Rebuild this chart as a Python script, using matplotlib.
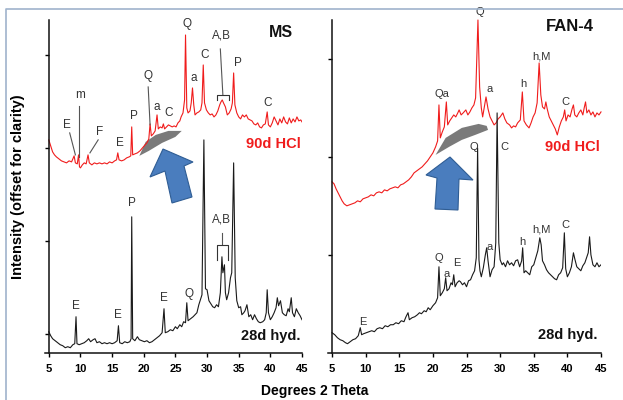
"""
plot.py
=======
XRD patterns of MS and FAN-4 pastes: 28 d hydrated vs. 90 d in HCl
(offset for clarity), with the amorphous hump shaded and marked by an arrow.
"""

import matplotlib.pyplot as plt
from matplotlib.patches import Polygon

plt.rcParams['font.family'] = ['Liberation Sans', 'DejaVu Sans']

# ──────────────────────────────────────────────
# Data (2-theta in degrees, intensity in arbitrary offset units)
# ──────────────────────────────────────────────
ms_28_theta = [5.0, 5.3, 5.6, 6.0, 6.4, 6.8, 7.2, 7.6, 8.0, 8.4, 8.8, 9.1, 9.3, 9.45, 9.8,
               10.2, 10.6, 11.0, 11.3, 11.6, 12.0, 12.3, 12.6, 13.0, 13.4, 13.8, 14.2, 14.6,
               15.0, 15.4, 15.8, 16.0, 16.2, 16.6, 17.0, 17.4, 17.8, 18.0, 18.1, 18.25, 18.6,
               19.0, 19.3, 19.7, 20.1, 20.5, 20.9, 21.3, 21.7, 22.1, 22.5, 22.9, 23.2, 23.4,
               23.8, 24.2, 24.6, 25.0, 25.3, 25.7, 26.0, 26.3, 26.6, 26.8, 27.0, 27.4, 27.8,
               28.1, 28.4, 28.7, 29.0, 29.2, 29.5, 29.75, 30.0, 30.3, 30.6, 30.9, 31.2, 31.5,
               31.8, 32.1, 32.35, 32.5, 32.75, 32.9, 33.1, 33.4, 33.7, 33.9, 34.2, 34.45, 34.7,
               35.0, 35.3, 35.5, 35.8, 36.0, 36.3, 36.6, 36.9, 37.2, 37.5, 37.8, 38.1, 38.4,
               38.8, 39.1, 39.35, 39.5, 39.7, 40.0, 40.3, 40.6, 40.9, 41.1, 41.3, 41.6, 41.9,
               42.2, 42.5, 42.8, 43.0, 43.3, 43.5, 43.8, 44.1, 44.4, 44.7, 45.0]
ms_28_int = [21, 17, 14, 12, 10, 8, 7, 5, 6, 5, 8, 9, 36, 9, 8,
             9, 10, 12, 14, 11, 13, 14, 10, 11, 9, 10, 9, 10,
             9, 10, 12, 27, 10, 9, 11, 10, 11, 14, 136, 14, 12,
             16, 13, 12, 11, 12, 10, 11, 13, 15, 17, 20, 44, 20,
             21, 23, 22, 26, 24, 28, 26, 31, 30, 50, 32, 34, 36,
             38, 40, 48, 54, 58, 213, 64, 63, 52, 49, 46, 45, 48,
             46, 60, 96, 80, 88, 60, 53, 60, 75, 80, 190, 75, 52,
             45, 46, 38, 40, 42, 48, 36, 38, 33, 38, 34, 31, 30,
             31, 33, 40, 63, 40, 33, 36, 40, 45, 55, 47, 52, 40,
             38, 37, 44, 41, 55, 40, 36, 44, 40, 37, 33]

ms_90_theta = [5.0, 5.3, 5.6, 5.9, 6.2, 6.6, 7.0, 7.4, 7.8, 8.2, 8.6, 9.0, 9.2, 9.5, 9.7,
               9.85, 10.0, 10.3, 10.6, 10.9, 11.2, 11.4, 11.8, 12.2, 12.6, 13.0, 13.4, 13.8,
               14.2, 14.6, 15.0, 15.4, 15.7, 15.9, 16.1, 16.5, 16.9, 17.3, 17.7, 17.95, 18.1,
               18.25, 18.6, 19.0, 19.4, 19.8, 20.2, 20.5, 20.8, 21.0, 21.2, 21.5, 21.8, 22.1,
               22.3, 22.6, 22.9, 23.1, 23.3, 23.6, 23.9, 24.2, 24.5, 24.8, 25.1, 25.4, 25.7,
               25.9, 26.2, 26.45, 26.6, 26.8, 27.0, 27.3, 27.5, 27.7, 27.9, 28.1, 28.4, 28.7,
               29.0, 29.2, 29.4, 29.6, 29.9, 30.2, 30.5, 30.8, 31.1, 31.4, 31.7, 32.0, 32.2,
               32.4, 32.6, 32.9, 33.2, 33.5, 33.8, 34.0, 34.2, 34.4, 34.7, 35.0, 35.3, 35.6,
               35.9, 36.2, 36.5, 36.8, 37.1, 37.4, 37.7, 38.0, 38.3, 38.6, 38.9, 39.2, 39.5,
               39.7, 40.0, 40.3, 40.6, 40.9, 41.2, 41.5, 41.8, 42.1, 42.4, 42.7, 43.0, 43.3,
               43.6, 43.9, 44.2, 44.5, 44.8, 45.0]
ms_90_int = [213, 207, 201, 198, 196, 194, 192, 191, 190, 192, 191, 197, 190, 189, 198,
             186, 185, 188, 190, 189, 198, 190, 188, 190, 189, 190, 189, 190,
             189, 191, 190, 192, 193, 200, 193, 192, 193, 195, 196, 197, 226,
             198, 199, 200, 202, 205, 208, 210, 214, 229, 217, 219, 222, 238,
             224, 226, 225, 229, 224, 226, 228, 227, 226, 227, 226, 230, 232,
             236, 240, 253, 318, 245, 240, 242, 250, 265, 248, 238, 240, 241,
             243, 250, 288, 250, 243, 240, 238, 239, 236, 238, 242, 248, 251,
             253, 250, 246, 238, 240, 244, 250, 280, 248, 240, 236, 234, 238,
             236, 238, 234, 233, 232, 229, 228, 230, 226, 225, 228, 229, 241,
             228, 226, 230, 236, 232, 228, 234, 230, 236, 231, 229, 235, 230,
             234, 231, 236, 232, 233, 231]

fan_28_theta = [5.0, 5.4, 5.8, 6.2, 6.6, 7.0, 7.3, 7.7, 8.1, 8.5, 8.9, 9.2, 9.4, 9.7, 10.1,
                10.5, 10.9, 11.3, 11.7, 12.1, 12.5, 12.9, 13.3, 13.7, 14.1, 14.5, 14.9, 15.3,
                15.7, 16.0, 16.3, 16.5, 16.9, 17.3, 17.7, 18.0, 18.3, 18.7, 19.0, 19.3, 19.6,
                20.0, 20.4, 20.7, 20.9, 21.1, 21.4, 21.7, 21.9, 22.1, 22.4, 22.7, 22.9, 23.1,
                23.3, 23.6, 23.9, 24.1, 24.4, 24.7, 25.0, 25.3, 25.6, 25.9, 26.2, 26.45, 26.65,
                26.85, 27.0, 27.2, 27.5, 27.8, 28.0, 28.2, 28.5, 28.8, 29.1, 29.35, 29.55, 29.8,
                30.0, 30.3, 30.5, 30.8, 31.1, 31.4, 31.7, 32.0, 32.3, 32.6, 32.9, 33.2, 33.35,
                33.55, 33.8, 34.1, 34.4, 34.7, 35.0, 35.3, 35.6, 35.9, 36.1, 36.3, 36.6, 36.9,
                37.2, 37.5, 37.8, 38.1, 38.4, 38.7, 39.0, 39.3, 39.55, 39.75, 40.0, 40.3, 40.6,
                40.9, 41.1, 41.4, 41.7, 42.0, 42.3, 42.6, 42.9, 43.1, 43.3, 43.5, 43.8, 44.1,
                44.4, 44.7, 45.0]
fan_28_int = [20, 18, 15, 13, 12, 10, 9, 11, 13, 14, 17, 25, 18, 19, 20,
              21, 22, 21, 24, 25, 24, 27, 26, 28, 28, 30, 29, 32,
              31, 36, 40, 33, 35, 36, 38, 40, 39, 42, 41, 45, 43,
              47, 50, 55, 86, 57, 60, 64, 75, 62, 64, 70, 68, 78,
              66, 70, 72, 71, 68, 70, 66, 72, 73, 78, 82, 95, 205,
              93, 82, 76, 85, 98, 105, 92, 76, 83, 86, 110, 240, 110,
              93, 88, 90, 86, 92, 88, 90, 87, 92, 93, 86, 92, 105,
              80, 82, 80, 78, 86, 88, 95, 102, 115, 108, 92, 88, 83,
              80, 78, 76, 74, 73, 78, 80, 85, 120, 84, 76, 80, 86,
              100, 94, 86, 84, 82, 87, 90, 96, 100, 116, 98, 88, 86,
              90, 86, 88]

fan_90_theta = [5.0, 5.3, 5.6, 5.9, 6.2, 6.5, 6.8, 7.2, 7.6, 8.0, 8.4, 8.8, 9.2, 9.6, 10.0,
                10.4, 10.8, 11.2, 11.6, 12.0, 12.4, 12.8, 13.2, 13.6, 14.0, 14.4, 14.8, 15.2,
                15.6, 16.0, 16.4, 16.8, 17.2, 17.6, 18.0, 18.4, 18.8, 19.2, 19.6, 20.0, 20.4,
                20.7, 20.9, 21.1, 21.4, 21.7, 22.0, 22.2, 22.5, 22.8, 23.1, 23.4, 23.7, 23.9,
                24.2, 24.5, 24.9, 25.2, 25.5, 25.8, 26.1, 26.35, 26.7, 26.95, 27.2, 27.4, 27.6,
                27.9, 28.2, 28.5, 28.8, 29.1, 29.4, 29.7, 30.0, 30.4, 30.7, 31.0, 31.4, 31.7,
                32.0, 32.3, 32.6, 33.0, 33.3, 33.55, 33.9, 34.3, 34.6, 34.9, 35.2, 35.5, 35.8,
                36.05, 36.3, 36.6, 36.8, 37.0, 37.3, 37.6, 37.9, 38.2, 38.5, 38.8, 39.1, 39.4,
                39.6, 39.8, 40.1, 40.4, 40.7, 40.9, 41.1, 41.4, 41.7, 42.0, 42.3, 42.5, 42.7,
                42.9, 43.2, 43.5, 43.8, 44.1, 44.4, 44.7, 45.0]
fan_90_int = [171, 169, 164, 160, 156, 152, 149, 147, 148, 149, 150, 152, 151, 154, 155,
              156, 158, 157, 160, 161, 160, 163, 162, 164, 165, 166, 165, 168,
              169, 171, 173, 176, 180, 182, 184, 186, 189, 192, 196, 200, 206,
              212, 248, 215, 221, 226, 251, 228, 232, 235, 238, 236, 240, 243,
              238, 240, 243, 238, 241, 245, 248, 255, 333, 266, 245, 236, 244,
              256, 244, 236, 232, 228, 230, 234, 236, 240, 234, 230, 228, 225,
              227, 226, 230, 233, 261, 232, 228, 225, 230, 236, 240, 250, 290,
              258, 246, 244, 251, 244, 236, 232, 228, 224, 218, 226, 232, 236,
              243, 232, 238, 236, 244, 248, 238, 236, 240, 243, 238, 245, 251,
              240, 243, 238, 241, 236, 240, 238, 241]

# amorphous hump outlines (2-theta, intensity)
ms_hump_theta = [19.3, 20.3, 21.9, 23.9, 26.0, 25.0, 22.9, 20.8]
ms_hump_int = [197, 211, 218, 222, 222, 216, 210, 202]
fan_hump_theta = [20.4, 21.9, 24.3, 26.8, 28.0, 28.2, 26.3, 24.3, 22.4, 20.9]
fan_hump_int = [198, 215, 225, 229, 227, 223, 218, 213, 206, 200]

ms_yticks = [19, 112, 205, 298]
fan_yticks = [98, 196, 294]
x_ticks = [5, 10, 15, 20, 25, 30, 35, 40, 45]

# peak labels: (text, 2-theta, intensity)
ms_labels_90 = [("E", 7.8, 228), ("m", 10.0, 258), ("F", 13.1, 221), ("E", 16.2, 210),
                ("P", 18.5, 237), ("Q", 20.6, 277), ("a", 22.1, 246), ("C", 24.0, 240),
                ("Q", 26.8, 329), ("a", 27.9, 275), ("C", 29.6, 298), ("A,B", 32.2, 317),
                ("P", 34.9, 290), ("C", 39.6, 250)]
ms_labels_28 = [("E", 9.3, 47), ("E", 15.9, 38), ("P", 18.2, 150), ("E", 23.2, 55),
                ("Q", 27.1, 59), ("A,B", 32.2, 133)]
fan_labels_90 = [("Qa", 21.4, 259), ("Q", 27.0, 341), ("a", 28.4, 264), ("h", 33.4, 269),
                 ("h,M", 36.2, 296), ("C", 39.7, 251)]
fan_labels_28 = [("E", 9.6, 31), ("Q", 20.9, 95), ("a", 22.0, 79), ("E", 23.5, 90),
                 ("Q", 26.1, 206), ("a", 28.4, 106), ("C", 30.7, 206), ("h", 33.3, 111),
                 ("h,M", 36.2, 123), ("C", 39.7, 128)]

# leader lines for the MS panel: ([x0, x1], [y0, y1])
ms_leaders = [([8.3, 9.2], [220, 198]), ([9.8, 9.8], [247, 196]), ([12.8, 11.5], [213, 200]),
              ([20.7, 21.0], [266, 228]), ([32.1, 32.5], [304, 258]), ([32.3, 32.3], [120, 109])]
# brackets: (x_left, x_right, y_top, y_bottom)
ms_brackets = [(31.6, 33.4, 258, 253), (31.5, 33.3, 108, 93)]

RED = "#f01c1c"
BLACK = "#1a1a1a"
LABEL = "#333333"
W, H = 623, 400


def style_axes(ax, yticks):
    ax.set_xlim(4.4, 45)
    ax.set_ylim(0, 333)
    for s in ("top", "right"):
        ax.spines[s].set_visible(False)
    ax.spines["left"].set_position(("data", 5))
    for s in ("left", "bottom"):
        ax.spines[s].set_linewidth(1.1)
        ax.spines[s].set_color("#111111")
    ax.set_xticks(x_ticks)
    ax.set_xticklabels([str(t) for t in x_ticks], fontsize=8, fontweight="bold")
    ax.set_yticks(yticks)
    ax.set_yticklabels([])
    ax.tick_params(direction="out", length=3, width=1, pad=5)
    ax.patch.set_alpha(0)


def add_labels(ax, labels, size=8.5):
    for txt, x, y in labels:
        ax.text(x, y, txt, ha="center", va="center", fontsize=size, color=LABEL,
                clip_on=False)


def add_arrow(pts):
    poly = Polygon([(x / W, 1 - y / H) for x, y in pts], closed=True,
                   transform=fig.transFigure, facecolor="#4a7dbe",
                   edgecolor="#2f5d94", linewidth=0.8, zorder=5)
    fig.patches.append(poly)


fig = plt.figure(figsize=(6.23, 4.0), dpi=100)
ax_ms = fig.add_axes([45 / W, 47.3 / H, 257 / W, 332.7 / H])
ax_fan = fig.add_axes([328 / W, 47.3 / H, 273 / W, 332.7 / H])

# ── MS panel ────────────────────────────────────────────────────────────────
ax_ms.fill(ms_hump_theta, ms_hump_int, color="#7a7a7a", lw=0)
ax_ms.plot(ms_90_theta, ms_90_int, color=RED, lw=0.8)
ax_ms.plot(ms_28_theta, ms_28_int, color=BLACK, lw=0.8)
style_axes(ax_ms, ms_yticks)
add_labels(ax_ms, ms_labels_90)
add_labels(ax_ms, ms_labels_28)
for xs, ys in ms_leaders:
    ax_ms.plot(xs, ys, color="#555555", lw=0.8)
for x0, x1, yt, yb in ms_brackets:
    ax_ms.plot([x0, x0, x1, x1], [yb, yt, yt, yb], color="#333333", lw=0.8)
ax_ms.text(41.6, 320, "MS", ha="center", va="center", fontsize=11.5,
           fontweight="bold", color="#111111")
ax_ms.text(40.5, 209, "90d HCl", ha="center", va="center", fontsize=10.5,
           fontweight="bold", color=RED)
ax_ms.text(40.0, 17, "28d hyd.", ha="center", va="center", fontsize=10.5,
           fontweight="bold", color="#111111")

# ── FAN-4 panel ─────────────────────────────────────────────────────────────
ax_fan.fill(fan_hump_theta, fan_hump_int, color="#7a7a7a", lw=0)
ax_fan.plot(fan_90_theta, fan_90_int, color=RED, lw=0.8, clip_on=False)
ax_fan.plot(fan_28_theta, fan_28_int, color=BLACK, lw=0.8)
style_axes(ax_fan, fan_yticks)
add_labels(ax_fan, fan_labels_90, size=8)
add_labels(ax_fan, fan_labels_28, size=8)
ax_fan.text(40.4, 326, "FAN-4", ha="center", va="center", fontsize=12,
            fontweight="bold", color="#111111")
ax_fan.text(40.7, 206, "90d HCl", ha="center", va="center", fontsize=10.5,
            fontweight="bold", color=RED)
ax_fan.text(40.0, 18, "28d hyd.", ha="center", va="center", fontsize=10.5,
            fontweight="bold", color="#111111")

# arrows pointing at the amorphous humps (figure pixel coordinates)
add_arrow([(163, 149), (193, 162), (184, 166), (192, 197), (172, 203), (165, 171), (150, 177)])
add_arrow([(450, 157), (473, 180), (459, 179), (458, 210), (435, 209), (437, 178), (426, 175)])

fig.text(18 / W, 1 - 187 / H, "Intensity (offset for clarity)", rotation=90,
         ha="center", va="center", fontsize=10.5, fontweight="bold")
fig.text(315 / W, 1 - 391 / H, "Degrees 2 Theta", ha="center", va="center",
         fontsize=10, fontweight="bold")

# thin frame of the original screenshot
fig.add_artist(plt.Line2D([6 / W, 6 / W, 1], [0, 1 - 9 / H, 1 - 9 / H],
                          transform=fig.transFigure, color="#9fb3cc", lw=1.2))

fig.savefig("out.png", dpi=100)
